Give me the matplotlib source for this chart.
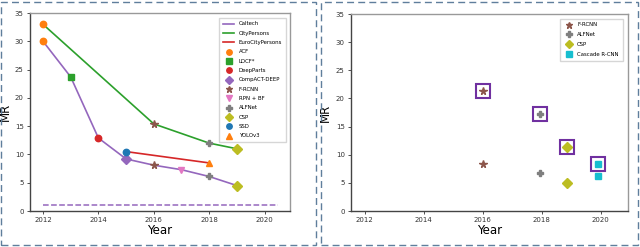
import matplotlib.pyplot as plt
from matplotlib.patches import Rectangle

# ---- data (left panel) ----
caltech_years = [2012, 2013, 2014, 2015, 2016, 2017, 2018, 2019]
caltech_mr = [30.0, 23.7, 12.9, 9.2, 8.1, 7.3, 6.1, 4.5]
city_years = [2012, 2016, 2018, 2019]
city_mr = [33.0, 15.4, 12.0, 11.0]
euro_years = [2015, 2018]
euro_mr = [10.5, 8.5]
baseline_years = [2012, 2020.5]
baseline_mr = [1.0, 1.0]

methods = ["ACF", "LDCF*", "DeepParts", "CompACT-DEEP", "F-RCNN",
           "RPN + BF", "ALFNet", "CSP", "SSD", "YOLOv3"]
method_x = [[2012, 2012], [2013], [2014], [2015], [2016, 2016],
            [2017], [2018, 2018], [2019, 2019], [2015], [2018]]
method_y = [[30.0, 33.0], [23.7], [12.9], [9.2], [8.1, 15.4],
            [7.3], [6.1, 12.0], [4.5, 11.0], [10.5], [8.5]]
method_marker = ["o", "s", "o", "D", "*", "v", "P", "D", "o", "^"]
method_color = ["tab:orange", "tab:green", "tab:red", "tab:purple", "tab:brown",
                "tab:pink", "tab:gray", "tab:olive", "tab:blue", "tab:orange"]

# ---- data (right panel) ----
r_methods = ["F-RCNN", "ALFNet", "CSP", "Cascade R-CNN"]
r_x = [2016.0, 2017.95, 2018.85, 2019.9]
r_low = [8.3, 6.7, 5.0, 6.3]
r_high = [21.4, 17.3, 11.4, 8.4]
r_marker = ["*", "P", "D", "s"]
r_color = ["tab:brown", "tab:gray", "tab:olive", "tab:cyan"]

fig = plt.figure(figsize=(6.4, 2.47), dpi=100)

# dashed frames round each panel
for x0, x1 in [(1, 316), (321, 638)]:
    fig.patches.append(Rectangle((x0 / 640, 2 / 247), (x1 - x0) / 640, 243 / 247,
                                 transform=fig.transFigure, fill=False,
                                 edgecolor="#5f7e9c", linewidth=1.0,
                                 linestyle=(0, (5, 3))))

ax1 = fig.add_axes([30 / 640, 36 / 247, 260 / 640, 198 / 247])
ax2 = fig.add_axes([351 / 640, 36 / 247, 277 / 640, 197 / 247])

ax1.plot(caltech_years, caltech_mr, color="tab:purple", lw=1.2, label="Caltech")
ax1.plot(city_years, city_mr, color="tab:green", lw=1.2, label="CityPersons")
ax1.plot(euro_years, euro_mr, color="tab:red", lw=1.2, label="EuroCityPersons")
ax1.plot(baseline_years, baseline_mr, color="tab:purple", lw=1.1, ls="--")
for name, xs, ys, m, c in zip(methods, method_x, method_y, method_marker, method_color):
    ms = 5.5 if m == "*" else 4.6
    ax1.plot(xs, ys, ls="none", marker=m, color=c, ms=ms, label=name, zorder=3)

for name, x, lo, hi, m, c in zip(r_methods, r_x, r_low, r_high, r_marker, r_color):
    ms = 5.5 if m == "*" else 4.6
    ax2.plot([x, x], [lo, hi], ls="none", marker=m, color=c, ms=ms, label=name, zorder=3)
    ax2.plot(x, hi, ls="none", marker="s", ms=10, mfc="none", mec="#7030a0", mew=1.5, zorder=4)

for ax, ylx in ((ax1, -0.069), (ax2, -0.069)):
    ax.set_xlim(2011.53, 2020.92)
    ax.set_ylim(0, 35)
    ax.set_xticks([2012, 2014, 2016, 2018, 2020])
    ax.set_yticks([0, 5, 10, 15, 20, 25, 30, 35])
    ax.tick_params(labelsize=5, length=2.5, width=0.6, pad=2, colors="#333333")
    ax.set_xlabel("Year", fontsize=8.5)
    ax.set_ylabel("MR", fontsize=8.5)
    ax.xaxis.set_label_coords(0.5, -0.066)
    ax.yaxis.set_label_coords(ylx, 0.5)
    ax.spines["left"].set_color("#444444")
    ax.spines["bottom"].set_color("#444444")
    ax.spines["top"].set_color("#999999")
    ax.spines["right"].set_color("#999999")
    for s in ax.spines.values():
        s.set_linewidth(1.0)

ax1.legend(loc="upper right", fontsize=3.9, labelspacing=0.8, handlelength=2.2,
           borderpad=0.7, frameon=True, fancybox=False, edgecolor="#cccccc",
           markerscale=0.85, bbox_to_anchor=(0.995, 0.99))
ax2.legend(loc="upper right", fontsize=3.9, labelspacing=0.9, handlelength=1.6,
           borderpad=0.7, frameon=True, fancybox=False, edgecolor="#cccccc",
           markerscale=0.85, bbox_to_anchor=(0.99, 0.99))

fig.savefig("out.png", dpi=100)
